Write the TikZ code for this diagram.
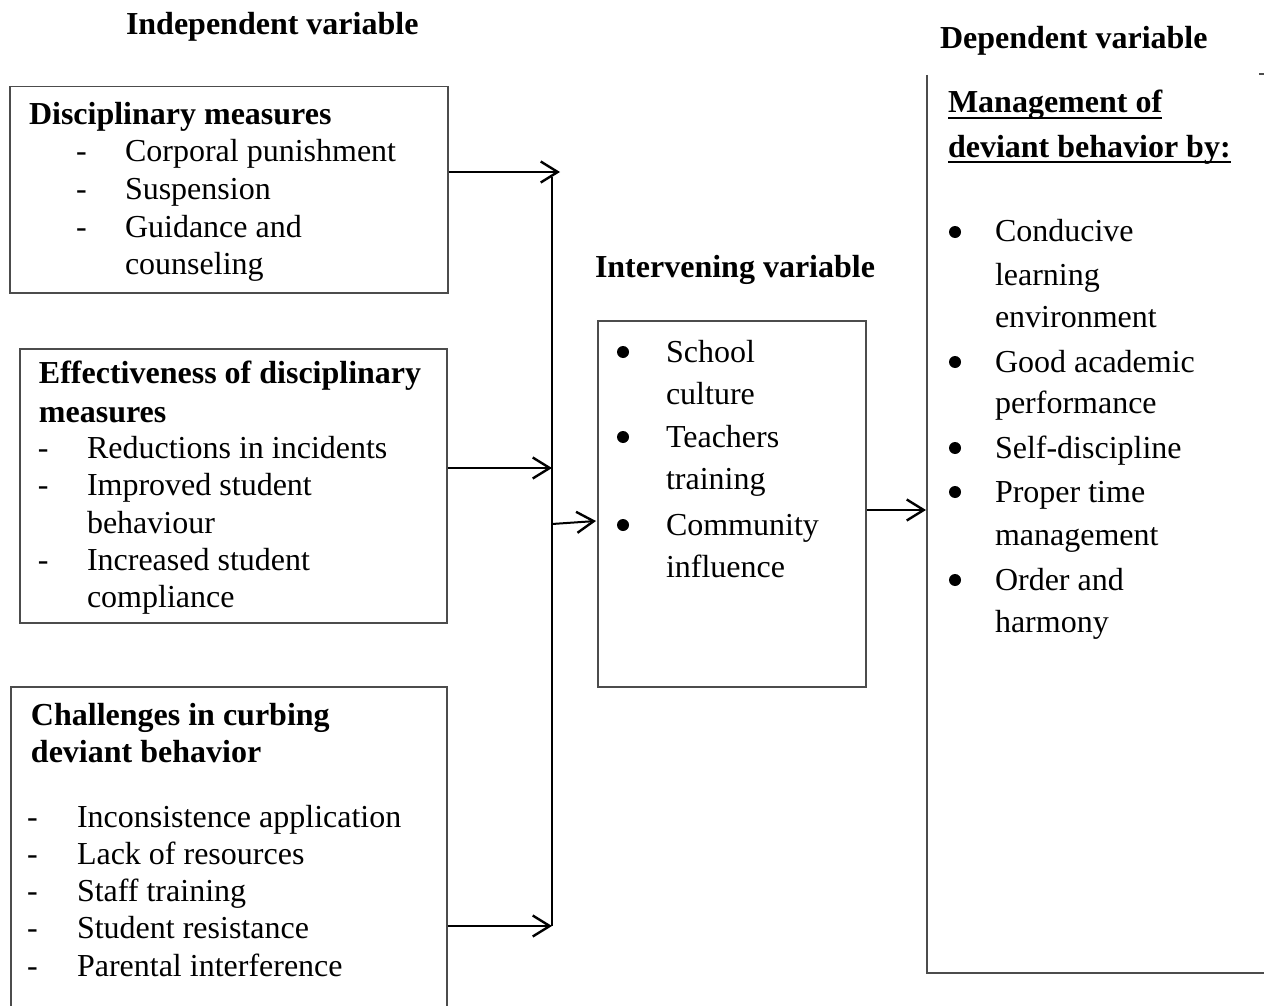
\documentclass[tikz,border=0pt]{standalone}
\usepackage{fontspec}
\setmainfont{Liberation Serif}
\usetikzlibrary{arrows.meta,calc}
\newcommand{\fs}{\fontsize{16}{18.75}\selectfont}
\begin{document}
\begin{tikzpicture}[x=0.5pt,y=-0.5pt,
  txt/.style={anchor=base west,inner sep=0pt,outer sep=0pt,font=\fs},
  hd/.style={txt,font=\fs\bfseries},
  dot/.style={circle,fill=black,inner sep=0pt,minimum size=6pt},
  boxnode/.style={draw=black!70,line width=0.75pt,rectangle,inner sep=0pt,anchor=north west},
  conn/.style={line width=1pt,black},
  arr/.style={conn,-{Straight Barb[length=8.5pt,width=10.5pt,line width=1.2pt]}}]
\useasboundingbox (0,0) rectangle (1264,1006);

% titles
\node[hd] (tind) at (126,35) {Independent variable};
\node[hd] (tdep) at (940,49) {Dependent variable};
\node[hd] (tint) at (595,277) {Intervening variable};

% boxes
\node[boxnode,minimum width=219pt,minimum height=103pt] (b1) at (9,86) {};
\node[boxnode,minimum width=213.5pt,minimum height=137pt] (b2) at (19,348) {};
\node[boxnode,minimum width=218pt,minimum height=170pt] (b3) at (10,686) {};
\node[boxnode,minimum width=134pt,minimum height=183pt] (bm) at (597,320) {};
\node[anchor=north west,inner sep=0pt,minimum width=170pt,minimum height=448.5pt] (br) at (927,75) {};
\draw[draw=black!70,line width=0.75pt] (br.north west) -- (br.south west) -- (br.south east);
\coordinate (tk) at (1259,74);
\draw[draw=black!70,line width=0.75pt] (tk) -- (tk -| br.north east);

% box 1 text
\node[hd] (h1) at (29,125) {Disciplinary measures};
\foreach \t/\b [count=\i] in {Corporal punishment/162, Suspension/199, Guidance and/237} {
  \node[txt] (d1\i) at (76,\b) {-};
  \node[txt] (l1\i) at (125,\b) {\t};
}
\node[txt] (l14) at (125,274) {counseling};

% box 2 text
\node[hd] (h2a) at (39,383) {Effectiveness of disciplinary};
\node[hd] (h2b) at (39,422) {measures};
\node[txt] (d21) at (38,458) {-};
\node[txt] (l21) at (87,458) {Reductions in incidents};
\node[txt] (d22) at (38,495) {-};
\node[txt] (l22) at (87,495) {Improved student};
\node[txt] (l23) at (87,533) {behaviour};
\node[txt] (d24) at (38,570) {-};
\node[txt] (l24) at (87,570) {Increased student};
\node[txt] (l25) at (87,607) {compliance};

% box 3 text
\node[hd] (h3a) at (31,725) {Challenges in curbing};
\node[hd] (h3b) at (31,762) {deviant behavior};
\foreach \t/\b [count=\i] in {Inconsistence application/827, Lack of resources/864, Staff training/901, Student resistance/938, Parental interference/976} {
  \node[txt] (d3\i) at (27,\b) {-};
  \node[txt] (l3\i) at (77,\b) {\t};
}

% middle box text
\foreach \b [count=\i] in {362,447,535} {
  \node[dot] (bm\i) at (623,\b-10) {};
}
\foreach \t/\b [count=\i] in {School/362, culture/404, Teachers/447, training/489, Community/535, influence/577} {
  \node[txt] (m\i) at (666,\b) {\t};
}

% right box text
\node[hd] (r1) at (948,113) {Management of};
\node[hd] (r2) at (948,157) {deviant behavior by:};
\draw[line width=1.2pt] ([yshift=-2.6pt]r1.base west) -- ([yshift=-2.6pt]r1.base east);
\draw[line width=1.2pt] ([yshift=-2.6pt]r2.base west) -- ([yshift=-2.6pt]r2.base east);
\foreach \b [count=\i] in {242,372,458,502,590} {
  \node[dot] (rb\i) at (955,\b-10) {};
}
\foreach \t/\b [count=\i] in {Conducive/242, learning/285, environment/327, Good academic/372, performance/413, Self-discipline/458, Proper time/502, management/545, Order and/590, harmony/632} {
  \node[txt] (rt\i) at (995,\b) {\t};
}

% connectors
\coordinate (t1) at (560,172);
\coordinate (vtop) at (552,177);
\coordinate (vbot) at (552,926);
\coordinate (t2) at (552,468);
\coordinate (t3) at (552,926);
\coordinate (s4) at (552,524);
\coordinate (t4) at (596,521);
\coordinate (t5) at (926,510);
\draw[conn] (vtop) -- (vbot);
\draw[arr] (b1.east |- t1) -- (t1);
\draw[arr] (b2.east |- t2) -- (t2);
\draw[arr] (b3.east |- t3) -- (t3);
\draw[arr] (s4) -- (t4);
\draw[arr] (bm.east |- t5) -- (t5);
\end{tikzpicture}
\end{document}
